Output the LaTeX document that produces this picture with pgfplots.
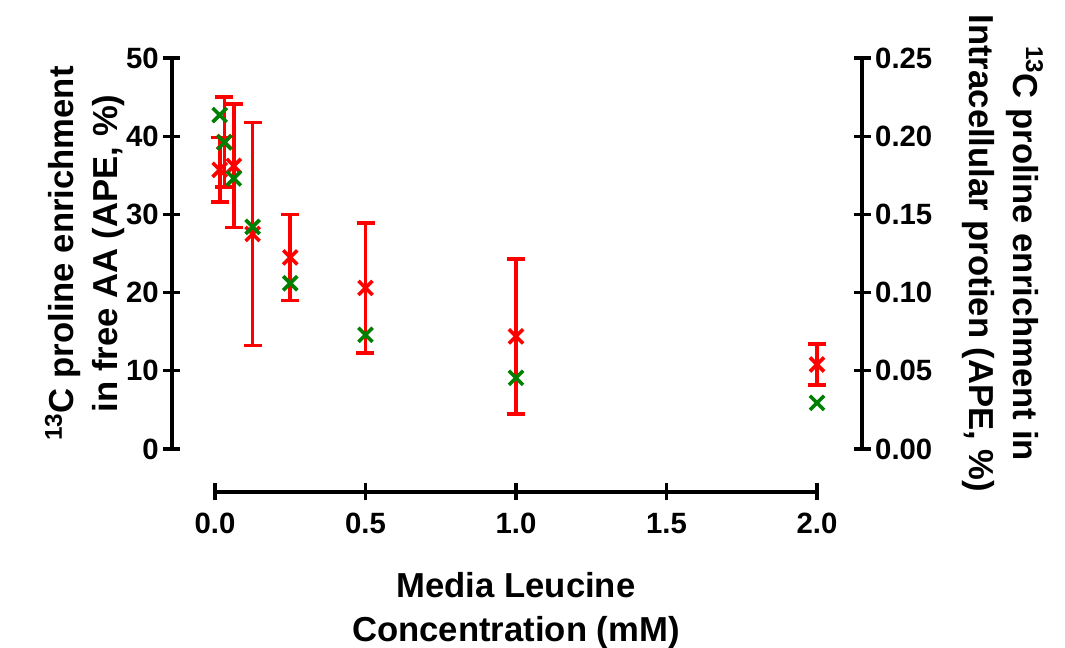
\documentclass[border=0pt]{standalone}
\usepackage{fontspec}
\setmainfont{Liberation Sans}
\usepackage{pgfplots}
\pgfplotsset{compat=1.18}
\definecolor{myred}{RGB}{255,0,0}
\definecolor{mygreen}{RGB}{0,128,0}
\newcommand{\labfont}{\fontsize{26pt}{33pt}\selectfont\bfseries}
\begin{document}
\begin{tikzpicture}
\pgfplotsset{
  common/.style={
    scale only axis,
    clip=false,
    every tick/.style={line width=2.5pt, black},
    tick align=outside,
    major tick length=12.75pt,
    /pgf/number format/assume math mode=true,
    tick label style={font=\fontsize{22pt}{26pt}\selectfont\bfseries},
  },
  nolinearrows/.style={
    axis line style={-, line width=2.5pt, black},
    every outer x axis line/.append style={-},
    every outer y axis line/.append style={-},
    every inner x axis line/.append style={-},
    every inner y axis line/.append style={-},
  }
}
\useasboundingbox (-129pt,-149.25pt) rectangle (669.75pt,336.75pt);
% left axis (free AA)
\begin{axis}[common,
  at={(0pt,0pt)}, anchor=south west,
  width=517.5pt, height=293.25pt,
  xmin=-0.14286, xmax=2.1495, ymin=0, ymax=50,
  axis x line=none, axis y line=left,
  nolinearrows,
  ytick={0,10,20,30,40,50},
  ylabel={\textsuperscript{13}C proline enrichment\\in free AA (APE, \%)},
  ylabel style={font=\labfont, align=center},
  ylabel shift=-6pt,
]
\addplot[only marks, mark=x, mark size=7.5pt, color=myred, line width=2.7pt,
  error bars/.cd, y dir=both, y explicit, error mark=-,
  error bar style={line width=2.7pt, color=myred},
  error mark options={mark size=6.75pt, line width=2.7pt, color=myred, rotate=90}]
 coordinates {
  (0.015625,35.7) +- (0,4.15)
  (0.03125,39.25) +- (0,5.75)
  (0.0625,36.2) +- (0,7.9)
  (0.125,27.5) +- (0,14.25)
  (0.25,24.5) +- (0,5.5)
  (0.5,20.6) +- (0,8.3)
  (1.0,14.4) +- (0,9.9)
  (2.0,10.8) +- (0,2.6)
 };
\end{axis}
% right axis (intracellular protein)
\begin{axis}[common,
  at={(0pt,0pt)}, anchor=south west,
  width=517.5pt, height=293.25pt,
  xmin=-0.14286, xmax=2.1495, ymin=0, ymax=0.25,
  axis x line=none, axis y line=right,
  nolinearrows,
  ytick={0,0.05,0.1,0.15,0.2,0.25},
  yticklabel style={/pgf/number format/.cd, fixed, fixed zerofill, precision=2},
  ylabel={\textsuperscript{13}C proline enrichment in\\Intracellular protien (APE, \%)},
  ylabel style={font=\labfont, align=center, rotate=180},
  ylabel shift=16pt,
]
\addplot[only marks, mark=x, mark size=7.5pt, color=mygreen, line width=2.7pt]
 coordinates {
  (0.015625,0.2135)
  (0.03125,0.196)
  (0.0625,0.173)
  (0.125,0.142)
  (0.25,0.106)
  (0.5,0.073)
  (1.0,0.0455)
  (2.0,0.0295)
 };
\end{axis}
% offset x axis
\begin{axis}[common,
  at={(32.25pt,-32.25pt)}, anchor=south west,
  width=451.5pt, height=10pt,
  xmin=0, xmax=2, ymin=0, ymax=1,
  axis x line=bottom, axis y line=none,
  nolinearrows,
  xtick={0,0.5,1,1.5,2},
  xticklabel style={yshift=-6pt, /pgf/number format/.cd, fixed, fixed zerofill, precision=1},
  xlabel={Media Leucine\\Concentration (mM)},
  xlabel style={font=\labfont, align=center, yshift=-22pt},
]
\end{axis}
\end{tikzpicture}
\end{document}
